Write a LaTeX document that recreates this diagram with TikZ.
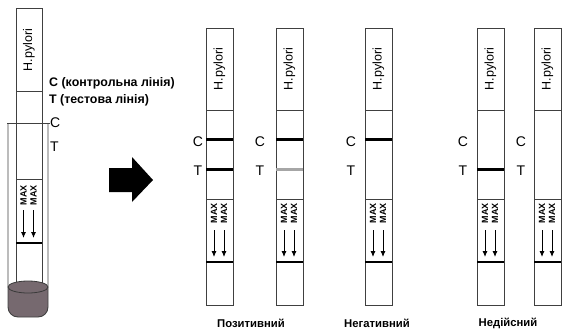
\documentclass[tikz,border=0pt]{standalone}
\usepackage{fontspec}
\setmainfont{Liberation Sans}
\usetikzlibrary{arrows.meta}
\tikzset{
  stripline/.style={draw=black!75, line width=0.9pt},
  band/.style={line width=3pt},
  endband/.style={line width=2.4pt, black},
  hptext/.style={rotate=90, inner sep=0pt, font=\fontsize{12.5}{14}\selectfont},
  maxtext/.style={rotate=90, inner sep=0pt, font=\bfseries\fontsize{9}{10}\selectfont},
  flowarrow/.style={line width=0.9pt, -{Latex[length=6pt,width=5pt]}},
  ctlabel/.style={inner sep=0pt, font=\fontsize{14}{16}\selectfont},
  boldlabel/.style={inner sep=0pt, anchor=west, font=\bfseries\fontsize{12.4}{14}\selectfont},
  reslabel/.style={inner sep=0pt, font=\bfseries\fontsize{11.3}{13}\selectfont},
}
\definecolor{liq}{HTML}{76696F}
\definecolor{edge}{HTML}{3A3A3A}
\begin{document}
\begin{tikzpicture}[x=1pt,y=-1pt]
\useasboundingbox (0,0) rectangle (562,333);

% ---------- left: strip in tube ----------
\draw[stripline] (16,287) -- (16,8) -- (42,8) -- (42,287);
\draw[stripline] (16,91) -- (42,91);
\draw[stripline] (16,179) -- (42,179);
\draw[endband] (16,243) -- (42,243);
\node[hptext] (hp0) at (29,50) {H.pylori};
\node[maxtext] (ma0) at (23.5,195) {MAX};
\node[maxtext] (mb0) at (33.5,195) {MAX};
\coordinate (a0s) at (23.5,210); \coordinate (a0e) at (23.5,238);
\coordinate (b0s) at (33.5,210); \coordinate (b0e) at (33.5,238);
\draw[flowarrow] (a0s) -- (a0e);
\draw[flowarrow] (b0s) -- (b0e);
% liquid
\fill[liq, rounded corners=10pt] (8,287) -- (8,317) -- (48,317) -- (48,287);
\fill[liq] (28,287) ellipse [x radius=20, y radius=6];
\draw[edge, line width=0.8pt] (28,287) ellipse [x radius=20, y radius=6];
% tube
\draw[stripline] (7,123) -- (50,123);
\draw[stripline, rounded corners=10pt] (8,123) -- (8,317) -- (48,317) -- (48,123);

\node[boldlabel] (lc) at (49,83) {C (контрольна лінія)};
\node[boldlabel] (lt) at (49,100) {T (тестова лінія)};
\node[ctlabel, anchor=west] (tc) at (50,123) {C};
\node[ctlabel, anchor=west] (tt) at (50,147) {T};

% ---------- big arrow ----------
\fill[black] (109,168) -- (132,168) -- (132,157) -- (153,180) -- (132,202) -- (132,192) -- (109,192) -- cycle;

% ---------- result strips ----------
\foreach \i/\x/\lx in {1/206/198, 2/276/260, 3/365/351, 4/477/463, 5/534/521}{
  \draw[stripline] (\x,28) rectangle (\x+27,305);
  \draw[stripline] (\x,110) -- (\x+27,110);
  \draw[stripline] (\x,199) -- (\x+27,199);
  \draw[endband] (\x,262) -- (\x+27,262);
  \node[hptext] (hp\i) at (\x+13.5,69) {H.pylori};
  \node[maxtext] (ma\i) at (\x+8,213) {MAX};
  \node[maxtext] (mb\i) at (\x+18,213) {MAX};
  \coordinate (a\i s) at (\x+8,230); \coordinate (a\i e) at (\x+8,257);
  \coordinate (b\i s) at (\x+18,230); \coordinate (b\i e) at (\x+18,257);
  \draw[flowarrow] (a\i s) -- (a\i e);
  \draw[flowarrow] (b\i s) -- (b\i e);
  \node[ctlabel] (c\i) at (\lx,142) {C};
  \node[ctlabel] (t\i) at (\lx,171) {T};
}
% bands
\draw[band] (206,139) -- (233,139);
\draw[band] (206,169) -- (233,169);
\draw[band] (276,139) -- (303,139);
\draw[band, black!35] (276,169) -- (303,169);
\draw[band] (365,139) -- (392,139);
\draw[band] (477,169) -- (504,169);

\node[reslabel] (pos) at (251,323) {Позитивний};
\node[reslabel] (neg) at (377,323) {Негативний};
\node[reslabel] (inv) at (508,323) {Недійсний};
\end{tikzpicture}
\end{document}
